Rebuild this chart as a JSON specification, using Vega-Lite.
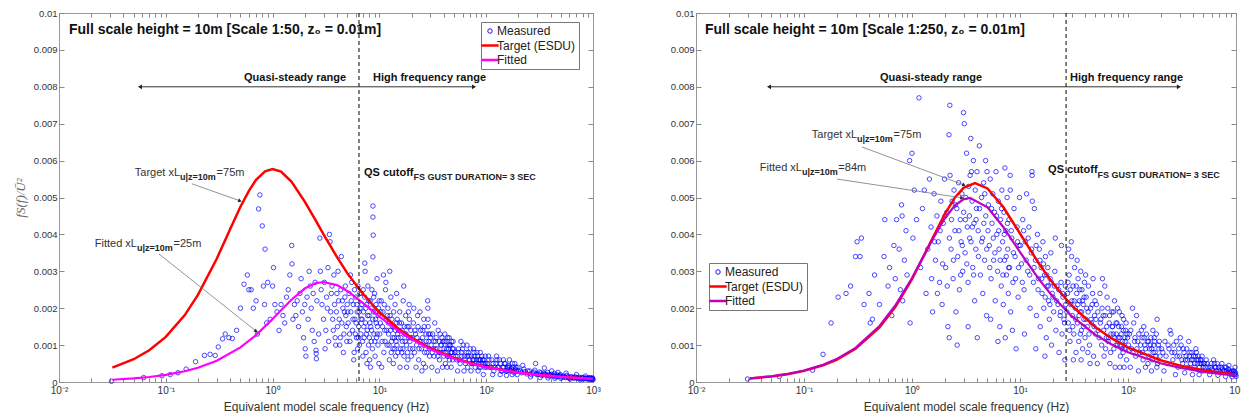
{
"$schema": "https://vega.github.io/schema/vega-lite/v6.json",
"background": "white",
"padding": {"left": 13, "top": 7, "right": 0, "bottom": 0},
"bounds": "flush",
"spacing": 103,
"config": {
  "font": "Liberation Sans",
  "view": {"stroke": "#9a9a9a", "strokeWidth": 1},
  "axis": {"grid": false, "domain": false, "tickColor": "#888", "labelColor": "#333", "labelFont": "Liberation Sans", "labelFontSize": 10, "titleFont": "Liberation Sans", "titleFontWeight": "normal", "titleColor": "#333", "titleFontSize": 12},
  "legend": {"labelFont": "Liberation Sans", "labelFontSize": 12, "labelColor": "#222", "padding": 3, "rowPadding": 2.5, "fillColor": "white", "strokeColor": "#777", "labelOffset": 1, "title": null}
},
"datasets": {
  "lm": [
{"f":0.031,"v":0.00002},{"f":0.062,"v":0.00012},{"f":0.092,"v":0.00017},{"f":0.11,"v":0.0002},{"f":0.13,"v":0.00025},{"f":0.155,"v":0.00035},{"f":0.19,"v":0.00055},{"f":0.23,"v":0.00072},{"f":0.26,"v":0.00075},{"f":0.29,"v":0.00072},{"f":0.31,"v":0.00095},{"f":0.34,"v":0.00117},{"f":0.36,"v":0.0013},{"f":0.39,"v":0.0012},{"f":0.42,"v":0.00118},{"f":0.46,"v":0.0014},{"f":0.5,"v":0.002},{"f":0.54,"v":0.00265},{"f":0.58,"v":0.0029},{"f":0.6,"v":0.0025},{"f":0.63,"v":0.0025},{"f":0.66,"v":0.002},{"f":0.7,"v":0.0022},{"f":0.72,"v":0.0013},{"f":0.74,"v":0.00469},{"f":0.76,"v":0.00507},{"f":0.8,"v":0.00423},{"f":0.82,"v":0.0026},{"f":0.84,"v":0.0021},{"f":0.85,"v":0.0036},{"f":0.88,"v":0.0016},{"f":0.9,"v":0.0027},{"f":0.95,"v":0.0017},{"f":1.0,"v":0.0026},{"f":1.02,"v":0.0031},{"f":1.05,"v":0.0021},{"f":1.1,"v":0.0019},{"f":1.15,"v":0.0014},{"f":1.2,"v":0.0021},{"f":1.25,"v":0.0018},{"f":1.3,"v":0.0016},{"f":1.35,"v":0.0023},{"f":1.4,"v":0.0025},{"f":1.45,"v":0.0029},{"f":1.51,"v":0.0037},{"f":1.52,"v":0.0032},{"f":1.55,"v":0.0017},{"f":1.6,"v":0.0021},{"f":1.65,"v":0.0018},{"f":1.7,"v":0.0022},{"f":1.75,"v":0.0015},{"f":1.8,"v":0.0024},{"f":1.85,"v":0.0028},{"f":1.9,"v":0.0019},{"f":1.95,"v":0.0012},{"f":2.0,"v":0.0021},{"f":2.02,"v":0.0009},{"f":2.05,"v":0.0007},{"f":2.1,"v":0.0023},{"f":2.15,"v":0.0017},{"f":2.2,"v":0.003},{"f":2.25,"v":0.0026},{"f":2.3,"v":0.002},{"f":2.35,"v":0.0014},{"f":2.4,"v":0.0024},{"f":2.45,"v":0.0011},{"f":2.5,"v":0.0027},{"f":2.55,"v":0.00086},{"f":2.56,"v":0.00077},{"f":2.57,"v":0.00063},{"f":2.6,"v":0.0022},{"f":2.7,"v":0.0013},{"f":2.77,"v":0.0039},{"f":2.8,"v":0.003},{"f":2.85,"v":0.0025},{"f":2.9,"v":0.0021},{"f":3.0,"v":0.0017},{"f":3.05,"v":0.0027},{"f":3.1,"v":0.0009},{"f":3.2,"v":0.0023},{"f":3.3,"v":0.0031},{"f":3.4,"v":0.004},{"f":3.45,"v":0.0038},{"f":3.5,"v":0.0019},{"f":3.6,"v":0.0026},{"f":3.7,"v":0.0014},{"f":3.8,"v":0.0021},{"f":3.9,"v":0.001},{"f":4.0,"v":0.0024},{"f":4.1,"v":0.003},{"f":4.2,"v":0.0017},{"f":4.3,"v":0.0012},{"f":4.4,"v":0.0034},{"f":4.5,"v":0.0022},{"f":4.6,"v":0.0008},{"f":4.7,"v":0.0019},{"f":4.8,"v":0.0026},{"f":4.9,"v":0.0015},{"f":5.0,"v":0.0021},
{"f":3.15,"v":0.0014},{"f":3.25,"v":0.002},{"f":3.35,"v":0.0011},{"f":3.55,"v":0.0024},{"f":3.65,"v":0.0017},{"f":3.75,"v":0.0029},{"f":3.85,"v":0.0012},{"f":3.95,"v":0.0019},{"f":4.05,"v":0.0015},{"f":4.15,"v":0.0022},{"f":4.25,"v":0.001},{"f":4.35,"v":0.0025},{"f":4.45,"v":0.0016},{"f":4.55,"v":0.002},{"f":4.65,"v":0.0013},{"f":4.75,"v":0.0023},{"f":4.85,"v":0.0018},{"f":4.95,"v":0.0011},
{"f":5.1,"v":0.0016},{"f":5.2,"v":0.0024},{"f":5.3,"v":0.0011},{"f":5.35,"v":0.0029},{"f":5.4,"v":0.0019},{"f":5.5,"v":0.0027},{"f":5.6,"v":0.0014},{"f":5.7,"v":0.0021},{"f":5.75,"v":0.0006},{"f":5.8,"v":0.0008},{"f":5.9,"v":0.0017},{"f":5.95,"v":0.0013},{"f":6.0,"v":0.0023},{"f":6.1,"v":0.0012},{"f":6.2,"v":0.0019},{"f":6.25,"v":0.0009},{"f":6.3,"v":0.0026},{"f":6.4,"v":0.0015},{"f":6.5,"v":0.001},{"f":6.6,"v":0.002},{"f":6.7,"v":0.0013},{"f":6.8,"v":0.0024},{"f":6.85,"v":0.0021},{"f":6.9,"v":0.0017},{"f":7.0,"v":0.0007},
{"f":5.05,"v":0.0019},{"f":5.25,"v":0.0013},{"f":5.45,"v":0.0022},{"f":5.65,"v":0.0017},{"f":5.85,"v":0.0025},{"f":6.05,"v":0.0016},{"f":6.15,"v":0.0021},{"f":6.35,"v":0.0012},{"f":6.45,"v":0.0019},{"f":6.55,"v":0.0024},{"f":6.75,"v":0.0017},{"f":6.95,"v":0.0011},{"f":7.05,"v":0.0025},{"f":7.15,"v":0.0015},{"f":7.45,"v":0.002},{"f":7.55,"v":0.0013},{"f":7.75,"v":0.0018},{"f":7.95,"v":0.0022},{"f":8.05,"v":0.0012},{"f":8.15,"v":0.0016},{"f":8.35,"v":0.002},{"f":8.45,"v":0.0014},{"f":8.65,"v":0.0017},{"f":8.85,"v":0.0023},{"f":9.05,"v":0.0011},{"f":9.15,"v":0.0019},{"f":9.35,"v":0.0016},{"f":9.55,"v":0.0013},{"f":9.75,"v":0.0018},{"f":9.95,"v":0.0022},
{"f":7.1,"v":0.0019},{"f":7.2,"v":0.0012},{"f":7.3,"v":0.0023},{"f":7.3,"v":0.00322},{"f":7.35,"v":0.003},{"f":7.4,"v":0.0016},{"f":7.5,"v":0.0008},{"f":7.6,"v":0.0021},{"f":7.65,"v":0.0005},{"f":7.7,"v":0.0014},{"f":7.8,"v":0.0026},{"f":7.9,"v":0.001},{"f":8.0,"v":0.0018},{"f":8.1,"v":0.0006},{"f":8.2,"v":0.0022},{"f":8.25,"v":0.0004},{"f":8.3,"v":0.0015},{"f":8.4,"v":0.0011},{"f":8.5,"v":0.0025},{"f":8.6,"v":0.0009},{"f":8.7,"v":0.00477},{"f":8.7,"v":0.00447},{"f":8.75,"v":0.00398},{"f":8.7,"v":0.00339},{"f":8.8,"v":0.0019},{"f":8.9,"v":0.0013},{"f":9.0,"v":0.0024},{"f":9.1,"v":0.0007},{"f":9.2,"v":0.0017},{"f":9.3,"v":0.0021},{"f":9.4,"v":0.0012},{"f":9.5,"v":0.0028},{"f":9.6,"v":0.0015},{"f":9.7,"v":0.001},{"f":9.8,"v":0.002},{"f":9.9,"v":0.0005},
{"f":10.2,"v":0.0016},{"f":10.4,"v":0.0022},{"f":10.5,"v":0.0004},{"f":10.6,"v":0.0011},{"f":10.8,"v":0.0019},{"f":10.9,"v":0.0029},{"f":11.0,"v":0.0008},{"f":11.2,"v":0.0014},{"f":11.4,"v":0.0025},{"f":11.5,"v":0.0027},{"f":11.6,"v":0.0017},{"f":11.8,"v":0.001},{"f":12.0,"v":0.002},{"f":12.2,"v":0.0013},{"f":12.4,"v":0.0006},{"f":12.5,"v":0.003},{"f":12.6,"v":0.0018},{"f":12.8,"v":0.0023},{"f":13.0,"v":0.0011},{"f":13.2,"v":0.0015},{"f":13.4,"v":0.0009},{"f":13.5,"v":0.0005},{"f":13.6,"v":0.0019},{"f":13.8,"v":0.0012},{"f":14.0,"v":0.0021},{"f":14.2,"v":0.0007},{"f":14.4,"v":0.0016},{"f":14.5,"v":0.0024},{"f":14.6,"v":0.001},{"f":14.8,"v":0.0013},
{"f":10.1,"v":0.0013},{"f":10.3,"v":0.0019},{"f":10.7,"v":0.0015},{"f":11.1,"v":0.0021},{"f":11.3,"v":0.0011},{"f":11.7,"v":0.0014},{"f":11.9,"v":0.0018},{"f":12.1,"v":0.0016},{"f":12.3,"v":0.001},{"f":12.7,"v":0.0014},{"f":12.9,"v":0.0008},{"f":13.1,"v":0.0017},{"f":13.3,"v":0.0012},{"f":13.7,"v":0.0015},{"f":13.9,"v":0.0009},{"f":14.1,"v":0.0014},{"f":14.3,"v":0.0011},{"f":14.7,"v":0.0017},{"f":14.9,"v":0.0008},{"f":15.0,"v":0.0012},{"f":15.4,"v":0.0016},{"f":15.9,"v":0.0012},{"f":16.3,"v":0.0014},{"f":16.6,"v":0.0009},{"f":17.1,"v":0.0015},{"f":17.7,"v":0.0013},{"f":18.3,"v":0.0008},{"f":18.9,"v":0.0015},{"f":19.3,"v":0.0011},{"f":19.6,"v":0.0012},
{"f":15.2,"v":0.0014},{"f":15.5,"v":0.0019},{"f":15.6,"v":0.0004},{"f":15.8,"v":0.0009},{"f":16.1,"v":0.0016},{"f":16.2,"v":0.0008},{"f":16.4,"v":0.0011},{"f":16.7,"v":0.0022},{"f":16.9,"v":0.0026},{"f":17.0,"v":0.0007},{"f":17.3,"v":0.0013},{"f":17.4,"v":0.0011},{"f":17.6,"v":0.0018},{"f":17.9,"v":0.001},{"f":18.0,"v":0.0004},{"f":18.2,"v":0.0015},{"f":18.5,"v":0.0006},{"f":18.7,"v":0.0019},{"f":18.8,"v":0.0012},{"f":19.0,"v":0.0021},{"f":19.1,"v":0.0017},{"f":19.4,"v":0.0009},{"f":19.7,"v":0.0014},{"f":19.9,"v":0.0007},
{"f":20.3,"v":0.0012},{"f":20.8,"v":0.0016},{"f":21.0,"v":0.002},{"f":21.3,"v":0.0008},{"f":21.8,"v":0.0013},{"f":22.0,"v":0.0004},{"f":22.3,"v":0.001},{"f":22.8,"v":0.0018},{"f":23.0,"v":0.0015},{"f":23.3,"v":0.0006},{"f":23.8,"v":0.0011},{"f":24.0,"v":0.0019},{"f":24.3,"v":0.0014},{"f":24.8,"v":0.0009},{"f":25.0,"v":0.0003},{"f":25.3,"v":0.0012},{"f":25.8,"v":0.0005},{"f":26.0,"v":0.0017},{"f":26.3,"v":0.0015},{"f":26.8,"v":0.001},{"f":27.0,"v":0.0004},{"f":27.3,"v":0.0013},{"f":27.8,"v":0.0008},{"f":28.3,"v":0.0022},{"f":28.4,"v":0.002},{"f":28.5,"v":0.0017},{"f":28.6,"v":0.0015},{"f":29.0,"v":0.0011},{"f":29.5,"v":0.0007},{"f":29.8,"v":0.0013},
{"f":20.5,"v":0.0009},{"f":21.5,"v":0.0014},{"f":22.5,"v":0.0012},{"f":23.5,"v":0.0009},{"f":24.5,"v":0.0011},{"f":25.5,"v":0.0014},{"f":26.5,"v":0.0008},{"f":27.5,"v":0.0011},{"f":28.8,"v":0.0013},{"f":29.3,"v":0.0009},{"f":30.0,"v":0.0012},{"f":31.3,"v":0.0008},{"f":32.3,"v":0.0011},{"f":33.3,"v":0.0009},{"f":34.0,"v":0.0012},{"f":35.3,"v":0.0007},{"f":36.3,"v":0.0011},{"f":37.3,"v":0.0008},{"f":38.0,"v":0.001},{"f":39.3,"v":0.0011},{"f":40.3,"v":0.0009},{"f":41.3,"v":0.0008},{"f":42.0,"v":0.0011},{"f":43.3,"v":0.0007},{"f":44.3,"v":0.0009},{"f":45.3,"v":0.0006},{"f":46.0,"v":0.001},{"f":47.3,"v":0.0008},{"f":48.3,"v":0.0009},{"f":49.3,"v":0.0007},
{"f":30.5,"v":0.001},{"f":31.0,"v":0.0004},{"f":31.5,"v":0.0013},{"f":32.0,"v":0.0009},{"f":32.5,"v":0.0007},{"f":33.0,"v":0.0016},{"f":33.5,"v":0.0011},{"f":34.5,"v":0.0009},{"f":35.0,"v":0.0003},{"f":35.5,"v":0.0014},{"f":36.0,"v":0.0008},{"f":36.5,"v":0.0006},{"f":37.0,"v":0.0013},{"f":37.5,"v":0.001},{"f":38.5,"v":0.0012},{"f":39.0,"v":0.0004},{"f":39.5,"v":0.0008},{"f":40.0,"v":0.0007},{"f":40.5,"v":0.0011},{"f":41.0,"v":0.0013},{"f":41.5,"v":0.0005},{"f":42.5,"v":0.0009},{"f":43.0,"v":0.0004},{"f":43.5,"v":0.0012},{"f":44.0,"v":0.001},{"f":44.5,"v":0.0007},{"f":45.0,"v":0.0012},{"f":45.5,"v":0.001},{"f":46.5,"v":0.0008},{"f":47.0,"v":0.0004},{"f":47.5,"v":0.0011},{"f":48.0,"v":0.0008},{"f":48.5,"v":0.0006},{"f":49.0,"v":0.0011},{"f":49.5,"v":0.0009},
{"f":51,"v":0.0008},{"f":53,"v":0.0006},{"f":54,"v":0.0003},{"f":55,"v":0.0009},{"f":57,"v":0.0005},{"f":58,"v":0.0011},{"f":59,"v":0.0007},{"f":61,"v":0.001},{"f":62,"v":0.0003},{"f":63,"v":0.0006},{"f":65,"v":0.0008},{"f":66,"v":0.001},{"f":67,"v":0.0004},{"f":69,"v":0.0007},{"f":71,"v":0.0009},{"f":72,"v":0.0003},{"f":73,"v":0.0005},{"f":75,"v":0.0006},{"f":76,"v":0.0009},{"f":77,"v":0.0008},{"f":79,"v":0.0004},{"f":81,"v":0.0006},{"f":83,"v":0.0007},{"f":84,"v":0.0003},{"f":85,"v":0.0005},{"f":87,"v":0.0006},{"f":88,"v":0.0008},{"f":89,"v":0.0004},{"f":91,"v":0.0007},{"f":93,"v":0.0005},{"f":94,"v":0.0002},{"f":95,"v":0.0006},{"f":97,"v":0.0004},{"f":98,"v":0.0007},{"f":99,"v":0.0005},
{"f":52,"v":0.0007},{"f":54.5,"v":0.0008},{"f":56,"v":0.0006},{"f":58.5,"v":0.0008},{"f":60,"v":0.0009},{"f":62.5,"v":0.0007},{"f":64,"v":0.0005},{"f":66.5,"v":0.0007},{"f":68,"v":0.0008},{"f":70,"v":0.0006},{"f":72.5,"v":0.0007},{"f":74,"v":0.0005},{"f":76.5,"v":0.0006},{"f":78,"v":0.0007},{"f":80,"v":0.0005},{"f":82,"v":0.0008},{"f":84.5,"v":0.0006},{"f":86,"v":0.0004},{"f":88.5,"v":0.0006},{"f":90,"v":0.0005},{"f":92.5,"v":0.0006},{"f":96,"v":0.0005},
{"f":103,"v":0.0005},{"f":105,"v":0.0007},{"f":108,"v":0.0004},{"f":113,"v":0.0006},{"f":115,"v":0.0002},{"f":118,"v":0.0003},{"f":123,"v":0.0005},{"f":125,"v":0.0007},{"f":128,"v":0.0004},{"f":133,"v":0.0006},{"f":135,"v":0.0002},{"f":138,"v":0.0003},{"f":143,"v":0.0004},{"f":145,"v":0.0006},{"f":148,"v":0.0005},{"f":153,"v":0.0003},{"f":155,"v":0.00018},{"f":158,"v":0.0004},{"f":163,"v":0.00045},{"f":165,"v":0.0006},{"f":168,"v":0.0003},{"f":173,"v":0.00035},{"f":175,"v":0.0002},{"f":178,"v":0.0004},{"f":183,"v":0.00025},{"f":185,"v":0.0005},{"f":188,"v":0.00035},{"f":193,"v":0.0003},{"f":195,"v":0.0002},{"f":198,"v":0.0004},
{"f":101,"v":0.0004},{"f":106,"v":0.0006},{"f":111,"v":0.0004},{"f":116,"v":0.0005},{"f":121,"v":0.0004},{"f":126,"v":0.0006},{"f":131,"v":0.0004},{"f":136,"v":0.0005},{"f":141,"v":0.0003},{"f":146,"v":0.0004},{"f":151,"v":0.0005},{"f":156,"v":0.0003},{"f":161,"v":0.0004},{"f":166,"v":0.0004},{"f":171,"v":0.0003},{"f":176,"v":0.0005},{"f":181,"v":0.0003},{"f":190,"v":0.0004},{"f":200,"v":0.0003},{"f":215,"v":0.00025},{"f":230,"v":0.00028},{"f":245,"v":0.0003},{"f":265,"v":0.0002},{"f":280,"v":0.00027},{"f":295,"v":0.00022},{"f":310,"v":0.00021},{"f":325,"v":0.00025},{"f":340,"v":0.00019},{"f":355,"v":0.00022},{"f":370,"v":0.00017},{"f":385,"v":0.0002},{"f":400,"v":0.00018},{"f":425,"v":0.00016},{"f":445,"v":0.00019},{"f":460,"v":0.00015},{"f":490,"v":0.00017},{"f":510,"v":0.00013},{"f":530,"v":0.00015},{"f":555,"v":0.00012},{"f":580,"v":0.00014},{"f":605,"v":0.00011},{"f":635,"v":0.00013},{"f":665,"v":0.0001},{"f":695,"v":0.00012},{"f":725,"v":0.00011},{"f":755,"v":0.0001},{"f":785,"v":0.00012},{"f":815,"v":0.00008},{"f":845,"v":0.0001},{"f":875,"v":0.00009},{"f":905,"v":0.00011},{"f":935,"v":0.00008},{"f":965,"v":0.0001},{"f":995,"v":0.00008},
{"f":210,"v":0.0003},{"f":220,"v":0.00045},{"f":225,"v":0.00035},{"f":240,"v":0.00022},{"f":255,"v":0.0003},{"f":260,"v":0.00014},{"f":270,"v":0.00025},{"f":285,"v":0.00032},{"f":290,"v":0.0005},{"f":300,"v":0.0002},{"f":315,"v":0.00027},{"f":320,"v":0.00012},{"f":330,"v":0.00018},{"f":345,"v":0.00024},{"f":350,"v":0.00038},{"f":360,"v":0.0002},{"f":375,"v":0.00026},{"f":380,"v":0.00011},{"f":390,"v":0.00016},{"f":405,"v":0.00021},{"f":410,"v":0.0003},{"f":420,"v":0.00018},{"f":435,"v":0.00023},{"f":440,"v":0.0001},{"f":450,"v":0.00014},{"f":465,"v":0.00019},{"f":470,"v":0.00026},{"f":480,"v":0.00016},{"f":495,"v":0.0002},{"f":500,"v":0.0001},
{"f":520,"v":0.00016},{"f":545,"v":0.00013},{"f":560,"v":0.00024},{"f":570,"v":0.00018},{"f":595,"v":0.00011},{"f":610,"v":0.00008},{"f":620,"v":0.00015},{"f":650,"v":0.00012},{"f":680,"v":0.00014},{"f":700,"v":0.0002},{"f":710,"v":0.0001},{"f":740,"v":0.00013},{"f":760,"v":0.00006},{"f":770,"v":0.00009},{"f":800,"v":0.00012},{"f":830,"v":0.0001},{"f":850,"v":0.00016},{"f":860,"v":0.00011},{"f":890,"v":0.00008},{"f":920,"v":0.0001},{"f":940,"v":0.00012},{"f":950,"v":0.00007},{"f":980,"v":0.00009},{"f":990,"v":0.00011},{"f":1000,"v":0.00006}
  ],
  "lt": [
{"f":0.0316,"v":0.000391},{"f":0.05,"v":0.000617},{"f":0.07,"v":0.000861},{"f":0.1,"v":0.001223},{"f":0.15,"v":0.001807},{"f":0.2,"v":0.00236},{"f":0.3,"v":0.00334},{"f":0.4,"v":0.00414},{"f":0.5,"v":0.00475},{"f":0.6,"v":0.00518},{"f":0.7,"v":0.00548},{"f":0.85,"v":0.00571},{"f":1,"v":0.00577},{"f":1.2,"v":0.0057},{"f":1.5,"v":0.00543},{"f":2,"v":0.00489},{"f":2.5,"v":0.00441},{"f":3,"v":0.004},{"f":4,"v":0.00339},{"f":5,"v":0.00295},{"f":7,"v":0.00239},{"f":10,"v":0.00189},{"f":15,"v":0.00145},{"f":20,"v":0.0012},{"f":30,"v":0.000914},{"f":50,"v":0.000651},{"f":70,"v":0.00052},{"f":100,"v":0.00041},{"f":200,"v":0.000258},{"f":300,"v":0.000197},{"f":500,"v":0.00014},{"f":1000,"v":0.0000883}
  ],
  "lf": [
{"f":0.0316,"v":0.0000612},{"f":0.05,"v":0.0000969},{"f":0.07,"v":0.000136},{"f":0.1,"v":0.000194},{"f":0.15,"v":0.00029},{"f":0.2,"v":0.000386},{"f":0.3,"v":0.000575},{"f":0.5,"v":0.000937},{"f":0.7,"v":0.001271},{"f":1,"v":0.001705},{"f":1.5,"v":0.00223},{"f":2,"v":0.002533},{"f":2.5,"v":0.002673},{"f":3,"v":0.00271},{"f":4,"v":0.002626},{"f":5,"v":0.002467},{"f":7,"v":0.002142},{"f":10,"v":0.001771},{"f":15,"v":0.001388},{"f":20,"v":0.001156},{"f":30,"v":0.000889},{"f":50,"v":0.000634},{"f":70,"v":0.000508},{"f":100,"v":0.000401},{"f":200,"v":0.000252},{"f":300,"v":0.000193},{"f":500,"v":0.000137},{"f":1000,"v":0.0000863}
  ],
  "rm": [
{"f":0.03,"v":0.00008},{"f":0.059,"v":0.00015},{"f":0.12,"v":0.00032},{"f":0.15,"v":0.00075},{"f":0.178,"v":0.0016},{"f":0.207,"v":0.0023},{"f":0.245,"v":0.0024},{"f":0.27,"v":0.0026},{"f":0.3,"v":0.0034},{"f":0.31,"v":0.0038},{"f":0.33,"v":0.0034},{"f":0.34,"v":0.0039},{"f":0.36,"v":0.0021},{"f":0.4,"v":0.0024},{"f":0.41,"v":0.0016},{"f":0.43,"v":0.0017},{"f":0.45,"v":0.0029},{"f":0.5,"v":0.0021},{"f":0.55,"v":0.0034},{"f":0.56,"v":0.0044},{"f":0.6,"v":0.0026},{"f":0.62,"v":0.0031},{"f":0.65,"v":0.0018},{"f":0.68,"v":0.0037},{"f":0.7,"v":0.0028},{"f":0.72,"v":0.0044},{"f":0.76,"v":0.0036},{"f":0.78,"v":0.0025},{"f":0.8,"v":0.0048},{"f":0.81,"v":0.0045},{"f":0.82,"v":0.0022},{"f":0.85,"v":0.0033},{"f":0.88,"v":0.0041},{"f":0.9,"v":0.0029},{"f":0.95,"v":0.006},{"f":0.96,"v":0.0016},{"f":1.0,"v":0.0062},{"f":1.02,"v":0.0039},{"f":1.05,"v":0.0052},{"f":1.1,"v":0.0044},{"f":1.16,"v":0.0077},{"f":1.2,"v":0.0031},{"f":1.25,"v":0.0047},{"f":1.3,"v":0.0052},{"f":1.35,"v":0.0024},{"f":1.4,"v":0.0036},{"f":1.45,"v":0.0055},{"f":1.5,"v":0.0042},{"f":1.55,"v":0.0019},{"f":1.6,"v":0.0051},{"f":1.65,"v":0.0033},{"f":1.7,"v":0.0045},
{"f":1.52,"v":0.0028},{"f":1.62,"v":0.0038},{"f":1.72,"v":0.0024},{"f":1.82,"v":0.0041},{"f":1.92,"v":0.0032},{"f":2.02,"v":0.0045},{"f":2.12,"v":0.0026},{"f":2.22,"v":0.0039},{"f":2.32,"v":0.0044},{"f":2.42,"v":0.0033},{"f":2.52,"v":0.0048},{"f":2.72,"v":0.0041},{"f":2.82,"v":0.0029},{"f":2.92,"v":0.0037},{"f":3.12,"v":0.0044},{"f":3.22,"v":0.0032},{"f":3.42,"v":0.0039},{"f":3.62,"v":0.0042},{"f":3.72,"v":0.0029},{"f":3.92,"v":0.0044},{"f":4.12,"v":0.0034},{"f":4.22,"v":0.0047},{"f":4.42,"v":0.0038},{"f":4.62,"v":0.0043},{"f":4.72,"v":0.0051},{"f":4.92,"v":0.0036},
{"f":1.75,"v":0.0038},{"f":1.8,"v":0.0027},{"f":1.85,"v":0.0049},{"f":1.9,"v":0.0021},{"f":1.95,"v":0.0043},{"f":2.0,"v":0.0055},{"f":2.05,"v":0.0031},{"f":2.1,"v":0.0046},{"f":2.15,"v":0.0015},{"f":2.2,"v":0.0067},{"f":2.21,"v":0.0012},{"f":2.24,"v":0.0075},{"f":2.25,"v":0.0056},{"f":2.3,"v":0.0036},{"f":2.35,"v":0.0049},{"f":2.4,"v":0.0028},{"f":2.45,"v":0.0052},{"f":2.5,"v":0.0041},{"f":2.55,"v":0.0019},{"f":2.6,"v":0.0047},{"f":2.62,"v":0.001},{"f":2.65,"v":0.0034},{"f":2.7,"v":0.0054},{"f":2.75,"v":0.0025},{"f":2.8,"v":0.0044},{"f":2.85,"v":0.0038},{"f":2.9,"v":0.0051},{"f":2.95,"v":0.003},{"f":3.0,"v":0.0073},{"f":3.01,"v":0.0046},
{"f":3.05,"v":0.007},{"f":3.1,"v":0.0035},{"f":3.15,"v":0.005},{"f":3.2,"v":0.0062},{"f":3.25,"v":0.0042},{"f":3.3,"v":0.0027},{"f":3.31,"v":0.0015},{"f":3.35,"v":0.0053},{"f":3.4,"v":0.0045},{"f":3.45,"v":0.0056},{"f":3.5,"v":0.0066},{"f":3.52,"v":0.0038},{"f":3.55,"v":0.0057},{"f":3.6,"v":0.0049},{"f":3.65,"v":0.0031},{"f":3.7,"v":0.006},{"f":3.75,"v":0.0043},{"f":3.8,"v":0.0022},{"f":3.85,"v":0.0052},{"f":3.9,"v":0.0036},{"f":3.95,"v":0.0047},{"f":4.0,"v":0.0057},{"f":4.02,"v":0.0012},{"f":4.1,"v":0.0041},{"f":4.2,"v":0.0064},{"f":4.3,"v":0.0029},{"f":4.4,"v":0.005},{"f":4.5,"v":0.0039},{"f":4.52,"v":0.0024},{"f":4.6,"v":0.0054},{"f":4.7,"v":0.0033},{"f":4.8,"v":0.006},{"f":4.82,"v":0.0045},{"f":4.9,"v":0.0018},{"f":4.95,"v":0.0057},
{"f":5.1,"v":0.0048},{"f":5.2,"v":0.0037},{"f":5.3,"v":0.0055},{"f":5.35,"v":0.0017},{"f":5.4,"v":0.0028},{"f":5.5,"v":0.0043},{"f":5.6,"v":0.0051},{"f":5.7,"v":0.0033},{"f":5.8,"v":0.0046},{"f":5.9,"v":0.0022},{"f":6.0,"v":0.0057},{"f":6.1,"v":0.004},{"f":6.2,"v":0.003},{"f":6.25,"v":0.0011},{"f":6.3,"v":0.0049},{"f":6.4,"v":0.0036},{"f":6.5,"v":0.0015},{"f":6.6,"v":0.0044},{"f":6.7,"v":0.0026},{"f":6.8,"v":0.0052},{"f":6.9,"v":0.0038},{"f":7.0,"v":0.0021},{"f":7.1,"v":0.0046},{"f":7.2,"v":0.0033},{"f":7.25,"v":0.0058},{"f":7.3,"v":0.0012},{"f":7.4,"v":0.0041},{"f":7.5,"v":0.0029},{"f":7.6,"v":0.005},{"f":7.7,"v":0.0036},{"f":7.8,"v":0.0024},{"f":7.9,"v":0.0044},{"f":8.0,"v":0.0031},{"f":8.1,"v":0.0056},{"f":8.12,"v":0.0052},{"f":8.2,"v":0.0019},{"f":8.4,"v":0.0039},{"f":8.5,"v":0.0014},{"f":8.6,"v":0.0027},{"f":8.8,"v":0.0047},{"f":9.0,"v":0.0034},{"f":9.2,"v":0.0009},{"f":9.4,"v":0.0042},{"f":9.6,"v":0.0023},{"f":9.8,"v":0.0037},{"f":9.9,"v":0.005},
{"f":5.05,"v":0.0041},{"f":5.25,"v":0.0031},{"f":5.45,"v":0.0047},{"f":5.65,"v":0.0039},{"f":5.85,"v":0.0035},{"f":6.05,"v":0.0045},{"f":6.35,"v":0.0041},{"f":6.55,"v":0.0033},{"f":6.75,"v":0.0047},{"f":6.95,"v":0.0029},{"f":7.15,"v":0.004},{"f":7.45,"v":0.0034},{"f":7.65,"v":0.0043},{"f":7.85,"v":0.0031},{"f":8.3,"v":0.0041},{"f":8.7,"v":0.0035},{"f":9.1,"v":0.0028},{"f":9.5,"v":0.0038},{"f":9.7,"v":0.0031},{"f":10.1,"v":0.0037},{"f":10.5,"v":0.0027},{"f":10.8,"v":0.0041},{"f":11.4,"v":0.0033},{"f":11.9,"v":0.0039},{"f":12.3,"v":0.0029},{"f":12.8,"v":0.0036},{"f":13.5,"v":0.0031},{"f":14.1,"v":0.0037},{"f":14.7,"v":0.0025},{"f":15.3,"v":0.0033},{"f":15.9,"v":0.0028},{"f":16.5,"v":0.0032},{"f":17.1,"v":0.0023},{"f":17.7,"v":0.0029},{"f":18.3,"v":0.0026},{"f":18.9,"v":0.0021},{"f":19.5,"v":0.0027},{"f":20.2,"v":0.0023},{"f":20.8,"v":0.0026},{"f":21.8,"v":0.0022},{"f":22.8,"v":0.0025},{"f":23.8,"v":0.0019},{"f":24.8,"v":0.0024},{"f":25.8,"v":0.0016},{"f":26.3,"v":0.0026},
{"f":10.3,"v":0.0032},{"f":10.6,"v":0.0044},{"f":10.9,"v":0.0025},{"f":11.0,"v":0.0013},{"f":11.2,"v":0.0038},{"f":11.5,"v":0.0051},{"f":11.8,"v":0.003},{"f":12.1,"v":0.0042},{"f":12.4,"v":0.002},{"f":12.7,"v":0.0035},{"f":12.9,"v":0.0057},{"f":12.95,"v":0.0056},{"f":13.0,"v":0.0049},{"f":13.3,"v":0.0027},{"f":13.6,"v":0.0047},{"f":13.9,"v":0.0033},{"f":14.0,"v":0.0009},{"f":14.2,"v":0.0018},{"f":14.5,"v":0.004},{"f":14.8,"v":0.0028},{"f":15.1,"v":0.0036},{"f":15.4,"v":0.0015},{"f":15.7,"v":0.0031},{"f":16.0,"v":0.0024},{"f":16.3,"v":0.0038},{"f":16.6,"v":0.002},{"f":16.9,"v":0.0029},{"f":17.0,"v":0.0007},{"f":17.2,"v":0.0034},{"f":17.5,"v":0.0012},{"f":17.8,"v":0.0026},{"f":18.1,"v":0.0031},{"f":18.4,"v":0.0022},{"f":18.7,"v":0.0017},{"f":19.0,"v":0.0028},{"f":19.3,"v":0.0035},{"f":19.6,"v":0.001},{"f":19.9,"v":0.0024},{"f":20.5,"v":0.0019},{"f":21.0,"v":0.003},{"f":21.2,"v":0.0039},{"f":21.5,"v":0.0014},{"f":22.0,"v":0.0026},{"f":22.5,"v":0.0021},{"f":23.0,"v":0.0008},{"f":23.5,"v":0.0018},{"f":24.0,"v":0.0027},{"f":24.2,"v":0.0037},{"f":24.5,"v":0.0013},{"f":25.0,"v":0.0023},{"f":25.5,"v":0.0017},{"f":26.0,"v":0.0006},{"f":26.5,"v":0.0021},
{"f":27.5,"v":0.0024},{"f":28,"v":0.0016},{"f":28.2,"v":0.0036},{"f":28.5,"v":0.0029},{"f":29,"v":0.0011},{"f":29.5,"v":0.0021},{"f":29.8,"v":0.0038},{"f":30,"v":0.0034},{"f":30.5,"v":0.0018},{"f":31,"v":0.0026},{"f":31.2,"v":0.0006},{"f":31.5,"v":0.0013},{"f":32,"v":0.0031},{"f":32.5,"v":0.002},{"f":33,"v":0.0008},{"f":33.5,"v":0.0024},{"f":33.8,"v":0.0033},{"f":34,"v":0.0016},{"f":34.5,"v":0.0028},{"f":35,"v":0.0011},{"f":35.5,"v":0.0022},{"f":36,"v":0.0019},{"f":36.5,"v":0.003},{"f":36.8,"v":0.0006},{"f":37,"v":0.0014},{"f":37.5,"v":0.0025},{"f":38,"v":0.0009},{"f":38.5,"v":0.0021},{"f":39,"v":0.0017},{"f":39.5,"v":0.0027},{"f":40,"v":0.0012},{"f":40.5,"v":0.0029},{"f":41,"v":0.0023},{"f":42,"v":0.0015},{"f":42.5,"v":0.0008},{"f":43,"v":0.0026},{"f":44,"v":0.001},{"f":44.5,"v":0.0005},{"f":45,"v":0.002},{"f":46,"v":0.0016},{"f":47,"v":0.0024},{"f":47.5,"v":0.0028},{"f":48,"v":0.0007},{"f":49,"v":0.0018},{"f":50,"v":0.0013},
{"f":27.2,"v":0.0019},{"f":27.8,"v":0.0027},{"f":28.7,"v":0.0014},{"f":29.2,"v":0.0025},{"f":30.2,"v":0.0022},{"f":30.8,"v":0.0015},{"f":31.8,"v":0.0022},{"f":32.8,"v":0.0017},{"f":33.2,"v":0.0026},{"f":34.3,"v":0.0021},{"f":35.2,"v":0.0018},{"f":35.8,"v":0.0025},{"f":36.2,"v":0.0013},{"f":37.2,"v":0.0019},{"f":37.8,"v":0.0022},{"f":38.8,"v":0.0015},{"f":39.2,"v":0.0023},{"f":40.8,"v":0.0017},{"f":41.5,"v":0.002},{"f":42.8,"v":0.0019},{"f":43.5,"v":0.0013},{"f":45.5,"v":0.0017},{"f":46.5,"v":0.0021},{"f":48.5,"v":0.0015},{"f":49.5,"v":0.0022},{"f":50.5,"v":0.0017},{"f":52.5,"v":0.0019},{"f":54,"v":0.0012},{"f":55.5,"v":0.0016},{"f":57.5,"v":0.002},{"f":59.5,"v":0.0014},{"f":61.5,"v":0.0018},{"f":63.5,"v":0.0015},{"f":65.5,"v":0.0011},{"f":67.5,"v":0.0018},{"f":69.5,"v":0.0013},{"f":71.5,"v":0.0015},{"f":73.5,"v":0.0019},{"f":75.5,"v":0.0012},{"f":77.5,"v":0.0016},{"f":79.5,"v":0.001},{"f":82,"v":0.0015},{"f":84,"v":0.0012},{"f":86.5,"v":0.0013},{"f":88,"v":0.0009},{"f":90.5,"v":0.0014},{"f":93.5,"v":0.0012},{"f":95.5,"v":0.0009},{"f":98,"v":0.0013},
{"f":51,"v":0.0021},{"f":52,"v":0.0005},{"f":53,"v":0.0014},{"f":55,"v":0.0024},{"f":56,"v":0.0017},{"f":57,"v":0.001},{"f":58,"v":0.0028},{"f":59,"v":0.0018},{"f":60,"v":0.0007},{"f":61,"v":0.0026},{"f":62,"v":0.0009},{"f":63,"v":0.0012},{"f":64,"v":0.0023},{"f":65,"v":0.002},{"f":66,"v":0.0012},{"f":67,"v":0.0016},{"f":68,"v":0.0005},{"f":69,"v":0.0008},{"f":71,"v":0.0019},{"f":72,"v":0.0015},{"f":73,"v":0.0013},{"f":74,"v":0.0009},{"f":75,"v":0.0022},{"f":76,"v":0.0004},{"f":77,"v":0.001},{"f":78,"v":0.0013},{"f":79,"v":0.0016},{"f":80,"v":0.002},{"f":81,"v":0.0012},{"f":83,"v":0.0019},{"f":84,"v":0.0004},{"f":85,"v":0.0007},{"f":86,"v":0.001},{"f":87,"v":0.0015},{"f":88,"v":0.0018},{"f":89,"v":0.0011},{"f":90,"v":0.0008},{"f":91,"v":0.0017},{"f":92,"v":0.0004},{"f":93,"v":0.0009},{"f":94,"v":0.0011},{"f":95,"v":0.0014},{"f":96,"v":0.0016},{"f":97,"v":0.0006},{"f":99,"v":0.0012},
{"f":101,"v":0.001},{"f":106,"v":0.0014},{"f":111,"v":0.0008},{"f":116,"v":0.0012},{"f":121,"v":0.0009},{"f":126,"v":0.0013},{"f":131,"v":0.001},{"f":136,"v":0.0008},{"f":141,"v":0.0012},{"f":146,"v":0.0009},{"f":151,"v":0.0011},{"f":156,"v":0.0007},{"f":161,"v":0.001},{"f":166,"v":0.0009},{"f":171,"v":0.0008},{"f":176,"v":0.0011},{"f":181,"v":0.0007},{"f":191,"v":0.001},{"f":205,"v":0.0009},{"f":225,"v":0.0007},{"f":235,"v":0.001},{"f":255,"v":0.0008},{"f":265,"v":0.001},{"f":285,"v":0.0007},{"f":295,"v":0.0009},{"f":315,"v":0.0006},{"f":325,"v":0.0009},{"f":345,"v":0.0007},{"f":355,"v":0.0006},{"f":375,"v":0.0008},{"f":385,"v":0.0006},{"f":405,"v":0.0007},{"f":415,"v":0.0005},{"f":435,"v":0.0006},{"f":445,"v":0.0007},{"f":465,"v":0.0005},{"f":475,"v":0.0006},{"f":495,"v":0.0004},{"f":510,"v":0.0005},{"f":550,"v":0.0004},{"f":590,"v":0.0005},{"f":610,"v":0.0003},{"f":640,"v":0.0004},{"f":670,"v":0.0005},{"f":700,"v":0.0003},{"f":730,"v":0.0004},{"f":760,"v":0.0003},{"f":790,"v":0.0004},{"f":820,"v":0.0003},{"f":850,"v":0.00035},{"f":880,"v":0.00025},{"f":910,"v":0.0003},{"f":940,"v":0.00022},{"f":970,"v":0.00028},{"f":995,"v":0.0002},
{"f":103,"v":0.0013},{"f":105,"v":0.0004},{"f":108,"v":0.0009},{"f":110,"v":0.002},{"f":113,"v":0.0016},{"f":115,"v":0.0011},{"f":118,"v":0.0007},{"f":120,"v":0.0018},{"f":123,"v":0.0011},{"f":125,"v":0.0003},{"f":128,"v":0.0008},{"f":133,"v":0.0014},{"f":135,"v":0.0012},{"f":138,"v":0.0006},{"f":140,"v":0.0015},{"f":143,"v":0.001},{"f":145,"v":0.0004},{"f":148,"v":0.0013},{"f":153,"v":0.0005},{"f":155,"v":0.0011},{"f":158,"v":0.0009},{"f":163,"v":0.0012},{"f":165,"v":0.0003},{"f":168,"v":0.0006},{"f":170,"v":0.0014},{"f":173,"v":0.001},{"f":175,"v":0.0012},{"f":178,"v":0.0008},{"f":183,"v":0.0013},{"f":185,"v":0.0004},{"f":186,"v":0.0017},{"f":188,"v":0.0005},{"f":193,"v":0.0009},{"f":195,"v":0.0011},{"f":198,"v":0.0007},
{"f":210,"v":0.0008},{"f":215,"v":0.0003},{"f":220,"v":0.0011},{"f":230,"v":0.0005},{"f":240,"v":0.0009},{"f":245,"v":0.0014},{"f":250,"v":0.0013},{"f":260,"v":0.0006},{"f":270,"v":0.0008},{"f":275,"v":0.0002},{"f":280,"v":0.0011},{"f":290,"v":0.0004},{"f":300,"v":0.0007},{"f":305,"v":0.0012},{"f":310,"v":0.001},{"f":320,"v":0.0005},{"f":330,"v":0.0008},{"f":335,"v":0.00025},{"f":340,"v":0.0006},{"f":350,"v":0.0009},{"f":360,"v":0.0004},{"f":365,"v":0.0011},{"f":370,"v":0.0007},{"f":380,"v":0.0005},{"f":390,"v":0.0008},{"f":395,"v":0.0002},{"f":400,"v":0.0006},{"f":410,"v":0.0004},{"f":420,"v":0.0007},{"f":425,"v":0.0009},{"f":430,"v":0.0008},{"f":440,"v":0.0005},{"f":450,"v":0.0006},{"f":455,"v":0.0002},{"f":460,"v":0.0004},{"f":470,"v":0.0006},{"f":480,"v":0.0005},{"f":485,"v":0.0007},{"f":490,"v":0.0003},{"f":500,"v":0.0005},
{"f":520,"v":0.0004},{"f":530,"v":0.0006},{"f":540,"v":0.0005},{"f":560,"v":0.0003},{"f":570,"v":0.0002},{"f":580,"v":0.0004},{"f":600,"v":0.00035},{"f":620,"v":0.0006},{"f":630,"v":0.0005},{"f":650,"v":0.0004},{"f":660,"v":0.0003},{"f":680,"v":0.00018},{"f":690,"v":0.0004},{"f":720,"v":0.00025},{"f":740,"v":0.0005},{"f":750,"v":0.00035},{"f":780,"v":0.0003},{"f":800,"v":0.00015},{"f":810,"v":0.0004},{"f":840,"v":0.00025},{"f":860,"v":0.00045},{"f":870,"v":0.0003},{"f":900,"v":0.0002},{"f":920,"v":0.00014},{"f":930,"v":0.00028},{"f":950,"v":0.0003},{"f":960,"v":0.0002},{"f":980,"v":0.0004},{"f":990,"v":0.00025},{"f":1000,"v":0.00015}
  ],
  "rt": [
{"f":0.0316,"v":0.0000955},{"f":0.05,"v":0.000151},{"f":0.07,"v":0.000211},{"f":0.1,"v":0.000302},{"f":0.15,"v":0.000452},{"f":0.2,"v":0.000602},{"f":0.3,"v":0.000899},{"f":0.5,"v":0.001479},{"f":0.7,"v":0.00203},{"f":1,"v":0.002785},{"f":1.5,"v":0.003812},{"f":2,"v":0.004539},{"f":2.5,"v":0.005002},{"f":3,"v":0.00526},{"f":3.83,"v":0.00539},{"f":5,"v":0.005246},{"f":7,"v":0.004743},{"f":10,"v":0.004025},{"f":15,"v":0.003205},{"f":20,"v":0.002687},{"f":30,"v":0.002073},{"f":50,"v":0.001483},{"f":70,"v":0.001187},{"f":100,"v":0.000937},{"f":200,"v":0.00059},{"f":300,"v":0.000451},{"f":500,"v":0.000321},{"f":1000,"v":0.000202}
  ],
  "rf": [
{"f":0.0316,"v":0.0000984},{"f":0.05,"v":0.000156},{"f":0.07,"v":0.000218},{"f":0.1,"v":0.000311},{"f":0.15,"v":0.000466},{"f":0.2,"v":0.00062},{"f":0.3,"v":0.000925},{"f":0.5,"v":0.001517},{"f":0.7,"v":0.002072},{"f":1,"v":0.002818},{"f":1.5,"v":0.003788},{"f":2,"v":0.004424},{"f":2.5,"v":0.004786},{"f":3,"v":0.004952},{"f":3.44,"v":0.00499},{"f":5,"v":0.004736},{"f":7,"v":0.0042},{"f":10,"v":0.00352},{"f":15,"v":0.002781},{"f":20,"v":0.002324},{"f":30,"v":0.001789},{"f":50,"v":0.001278},{"f":70,"v":0.001023},{"f":100,"v":0.000808},{"f":200,"v":0.000509},{"f":300,"v":0.000388},{"f":500,"v":0.000276},{"f":1000,"v":0.000174}
  ]
},
"resolve": {"scale": {"color": "independent"}, "legend": {"color": "independent"}},
"hconcat": [
{
  "width": 534, "height": 369,
  "resolve": {"axis": {"x": "independent", "y": "independent"}},
  "layer": [
    {"data": {"name": "lm"}, "mark": {"type": "point", "filled": false, "size": 20, "strokeWidth": 0.9, "opacity": 0.8},
     "encoding": {
       "x": {"field": "f", "type": "quantitative", "scale": {"type": "log", "domain": [0.01, 1000], "nice": false},
             "axis": {"title": "Equivalent model scale frequency (Hz)", "values": [0.01,0.02,0.03,0.04,0.05,0.06,0.07,0.08,0.09,0.1,0.2,0.3,0.4,0.5,0.6,0.7,0.8,0.9,1,2,3,4,5,6,7,8,9,10,20,30,40,50,60,70,80,90,100,200,300,400,500,600,700,800,900,1000],
                      "labelExpr": "abs(log(datum.value)/LN10 - round(log(datum.value)/LN10)) > 0.01 ? '' : (round(log(datum.value)/LN10) == -2 ? '10⁻²' : round(log(datum.value)/LN10) == -1 ? '10⁻¹' : round(log(datum.value)/LN10) == 0 ? '10⁰' : round(log(datum.value)/LN10) == 1 ? '10¹' : round(log(datum.value)/LN10) == 2 ? '10²' : '10³')",
                      "tickSize": -4, "labelPadding": 7, "labelOverlap": false, "labelFlush": false, "labelBound": false, "titlePadding": 6}},
       "y": {"field": "v", "type": "quantitative", "scale": {"domain": [0, 0.01], "nice": false, "zero": false},
             "axis": {"title": "fS(f)/Ū²", "values": [0,0.001,0.002,0.003,0.004,0.005,0.006,0.007,0.008,0.009,0.01], "format": "~g", "tickSize": -5, "labelPadding": 7, "labelFontSize": 9.5, "titleFont": "Liberation Serif", "titleFontStyle": "italic", "titleFontSize": 13, "titleColor": "#666", "titlePadding": 6}},
       "color": {"datum": "Measured", "type": "nominal",
                 "scale": {"domain": ["Measured", "Target (ESDU)", "Fitted"], "range": ["#0000ff", "#ff0000", "#ff00ff"]},
                 "legend": {"orient": "none", "legendX": 422, "legendY": 9, "title": null,
                            "encode": {"symbols": {"update": {
                              "shape": {"signal": "datum.value === 'Measured' ? 'circle' : 'stroke'"},
                              "size": {"signal": "datum.value === 'Measured' ? 20 : 300"},
                              "strokeWidth": {"signal": "datum.value === 'Measured' ? 0.9 : 2.5"},
                              "fill": {"value": "transparent"},
                              "opacity": {"value": 1}}}}}}
     }},
    {"data": {"name": "lt"}, "mark": {"type": "line", "strokeWidth": 2.5},
     "encoding": {
       "x": {"field": "f", "type": "quantitative", "scale": {"type": "log", "domain": [0.01, 1000], "nice": false},
             "axis": {"orient": "top", "values": [0.01,0.02,0.03,0.04,0.05,0.06,0.07,0.08,0.09,0.1,0.2,0.3,0.4,0.5,0.6,0.7,0.8,0.9,1,2,3,4,5,6,7,8,9,10,20,30,40,50,60,70,80,90,100,200,300,400,500,600,700,800,900,1000], "labels": false, "title": null, "tickSize": -4}},
       "y": {"field": "v", "type": "quantitative", "scale": {"domain": [0, 0.01], "nice": false, "zero": false},
             "axis": {"orient": "right", "values": [0,0.001,0.002,0.003,0.004,0.005,0.006,0.007,0.008,0.009,0.01], "labels": false, "title": null, "tickSize": -5}},
       "color": {"datum": "Target (ESDU)", "type": "nominal",
                 "legend": {"orient": "none", "legendX": 422, "legendY": 9, "title": null,
                            "encode": {"symbols": {"update": {
                              "shape": {"signal": "datum.value === 'Measured' ? 'circle' : 'stroke'"},
                              "size": {"signal": "datum.value === 'Measured' ? 20 : 300"},
                              "strokeWidth": {"signal": "datum.value === 'Measured' ? 0.9 : 2.5"},
                              "fill": {"value": "transparent"},
                              "opacity": {"value": 1}}}}}}
     }},
    {"data": {"name": "lf"}, "mark": {"type": "line", "strokeWidth": 2.2},
     "encoding": {
       "x": {"field": "f", "type": "quantitative", "scale": {"type": "log", "domain": [0.01, 1000], "nice": false}, "axis": null},
       "y": {"field": "v", "type": "quantitative", "scale": {"domain": [0, 0.01], "nice": false, "zero": false}, "axis": null},
       "color": {"datum": "Fitted", "type": "nominal",
                 "legend": {"orient": "none", "legendX": 422, "legendY": 9, "title": null,
                            "encode": {"symbols": {"update": {
                              "shape": {"signal": "datum.value === 'Measured' ? 'circle' : 'stroke'"},
                              "size": {"signal": "datum.value === 'Measured' ? 20 : 300"},
                              "strokeWidth": {"signal": "datum.value === 'Measured' ? 0.9 : 2.5"},
                              "fill": {"value": "transparent"},
                              "opacity": {"value": 1}}}}}}
     }},
    {"data": {"values": [{"f": 6.44}]}, "mark": {"type": "rule", "color": "#000", "strokeDash": [4, 3], "strokeWidth": 1},
     "encoding": {"x": {"field": "f", "type": "quantitative", "scale": {"type": "log", "domain": [0.01, 1000], "nice": false}, "axis": null}}},
    {"data": {"values": [{"f": 0.0573, "f2": 76.9, "v": 0.008}]}, "mark": {"type": "rule", "color": "#333", "strokeWidth": 1},
     "encoding": {"x": {"field": "f", "type": "quantitative", "axis": null}, "x2": {"field": "f2"}, "y": {"field": "v", "type": "quantitative", "axis": null}}},
    {"data": {"values": [{"f": 0.0573, "v": 0.008}]}, "mark": {"type": "point", "shape": "triangle-left", "filled": true, "size": 22, "color": "#222", "opacity": 1},
     "encoding": {"x": {"field": "f", "type": "quantitative", "axis": null}, "y": {"field": "v", "type": "quantitative", "axis": null}}},
    {"data": {"values": [{"f": 76.9, "v": 0.008}]}, "mark": {"type": "point", "shape": "triangle-right", "filled": true, "size": 22, "color": "#222", "opacity": 1},
     "encoding": {"x": {"field": "f", "type": "quantitative", "axis": null}, "y": {"field": "v", "type": "quantitative", "axis": null}}},
    {"data": {"values": [{"f": 0.176, "v": 0.00537, "f2": 0.495, "v2": 0.00491}, {"f": 0.0863, "v": 0.00347, "f2": 0.7, "v2": 0.00138}]},
     "mark": {"type": "rule", "color": "#777", "strokeWidth": 0.8},
     "encoding": {"x": {"field": "f", "type": "quantitative", "axis": null}, "x2": {"field": "f2"}, "y": {"field": "v", "type": "quantitative", "axis": null}, "y2": {"field": "v2"}}},
    {"data": {"values": [{"f": 0.495, "v": 0.00491}]}, "mark": {"type": "point", "shape": "triangle-right", "angle": 19.5, "filled": true, "size": 16, "color": "#222", "opacity": 1},
     "encoding": {"x": {"field": "f", "type": "quantitative", "axis": null}, "y": {"field": "v", "type": "quantitative", "axis": null}}},
    {"data": {"values": [{"f": 0.7, "v": 0.00138}]}, "mark": {"type": "point", "shape": "triangle-right", "angle": 38.4, "filled": true, "size": 16, "color": "#222", "opacity": 1},
     "encoding": {"x": {"field": "f", "type": "quantitative", "axis": null}, "y": {"field": "v", "type": "quantitative", "axis": null}}},
    {"data": {"values": [{"f": 0.0124, "v": 0.00954, "t": "Full scale height = 10m [Scale 1:50, z₀ = 0.01m]"}]},
     "mark": {"type": "text", "align": "left", "baseline": "middle", "font": "Liberation Sans", "fontWeight": "bold", "fontSize": 14, "color": "#111"},
     "encoding": {"x": {"field": "f", "type": "quantitative", "axis": null}, "y": {"field": "v", "type": "quantitative", "axis": null}, "text": {"field": "t"}}},
    {"data": {"values": [{"f": 0.54, "v": 0.00824, "t": "Quasi-steady range"}, {"f": 8.7, "v": 0.00824, "t": "High frequency range"}, {"f": 7.18, "v": 0.00566, "t": "QS cutoff"}]},
     "mark": {"type": "text", "align": "left", "baseline": "middle", "font": "Liberation Sans", "fontWeight": "bold", "fontSize": 11, "color": "#111"},
     "encoding": {"x": {"field": "f", "type": "quantitative", "axis": null}, "y": {"field": "v", "type": "quantitative", "axis": null}, "text": {"field": "t"}}},
    {"data": {"values": [{"f": 20.9, "v": 0.00556, "t": "FS GUST DURATION= 3 SEC"}, {"f": 0.136, "v": 0.00555, "t": "u|z=10m"}, {"f": 0.0537, "v": 0.00363, "t": "u|z=10m"}]},
     "mark": {"type": "text", "align": "left", "baseline": "middle", "font": "Liberation Sans", "fontWeight": "bold", "fontSize": 9, "color": "#222"},
     "encoding": {"x": {"field": "f", "type": "quantitative", "axis": null}, "y": {"field": "v", "type": "quantitative", "axis": null}, "text": {"field": "t"}}},
    {"data": {"values": [{"f": 0.136, "v": 0.00566, "t": "Target xL"}, {"f": 0.0537, "v": 0.00374, "t": "Fitted xL"}]},
     "mark": {"type": "text", "align": "right", "baseline": "middle", "font": "Liberation Sans", "fontSize": 11, "color": "#333"},
     "encoding": {"x": {"field": "f", "type": "quantitative", "axis": null}, "y": {"field": "v", "type": "quantitative", "axis": null}, "text": {"field": "t"}}},
    {"data": {"values": [{"f": 0.299, "v": 0.00566, "t": "=75m"}, {"f": 0.118, "v": 0.00374, "t": "=25m"}]},
     "mark": {"type": "text", "align": "left", "baseline": "middle", "font": "Liberation Sans", "fontSize": 11, "color": "#333"},
     "encoding": {"x": {"field": "f", "type": "quantitative", "axis": null}, "y": {"field": "v", "type": "quantitative", "axis": null}, "text": {"field": "t"}}}
  ]
},
{
  "width": 540, "height": 369,
  "resolve": {"axis": {"x": "independent", "y": "independent"}},
  "layer": [
    {"data": {"name": "rm"}, "mark": {"type": "point", "filled": false, "size": 20, "strokeWidth": 0.9, "opacity": 0.8},
     "encoding": {
       "x": {"field": "f", "type": "quantitative", "scale": {"type": "log", "domain": [0.01, 1000], "nice": false},
             "axis": {"title": "Equivalent model scale frequency (Hz)", "values": [0.01,0.02,0.03,0.04,0.05,0.06,0.07,0.08,0.09,0.1,0.2,0.3,0.4,0.5,0.6,0.7,0.8,0.9,1,2,3,4,5,6,7,8,9,10,20,30,40,50,60,70,80,90,100,200,300,400,500,600,700,800,900,1000],
                      "labelExpr": "abs(log(datum.value)/LN10 - round(log(datum.value)/LN10)) > 0.01 ? '' : (round(log(datum.value)/LN10) == -2 ? '10⁻²' : round(log(datum.value)/LN10) == -1 ? '10⁻¹' : round(log(datum.value)/LN10) == 0 ? '10⁰' : round(log(datum.value)/LN10) == 1 ? '10¹' : round(log(datum.value)/LN10) == 2 ? '10²' : '10³')",
                      "tickSize": -4, "labelPadding": 7, "labelOverlap": false, "labelFlush": false, "labelBound": false, "titlePadding": 6}},
       "y": {"field": "v", "type": "quantitative", "scale": {"domain": [0, 0.01], "nice": false, "zero": false},
             "axis": {"title": null, "values": [0,0.001,0.002,0.003,0.004,0.005,0.006,0.007,0.008,0.009,0.01], "format": "~g", "tickSize": -5, "labelPadding": 7, "labelFontSize": 9.5}},
       "color": {"datum": "Measured", "type": "nominal",
                 "scale": {"domain": ["Measured", "Target (ESDU)", "Fitted"], "range": ["#0000ff", "#ff0000", "#c000c0"]},
                 "legend": {"orient": "none", "legendX": 13, "legendY": 250, "title": null,
                            "encode": {"symbols": {"update": {
                              "shape": {"signal": "datum.value === 'Measured' ? 'circle' : 'stroke'"},
                              "size": {"signal": "datum.value === 'Measured' ? 20 : 300"},
                              "strokeWidth": {"signal": "datum.value === 'Measured' ? 0.9 : 2.5"},
                              "fill": {"value": "transparent"},
                              "opacity": {"value": 1}}}}}}
     }},
    {"data": {"name": "rt"}, "mark": {"type": "line", "strokeWidth": 2.5},
     "encoding": {
       "x": {"field": "f", "type": "quantitative", "scale": {"type": "log", "domain": [0.01, 1000], "nice": false},
             "axis": {"orient": "top", "values": [0.01,0.02,0.03,0.04,0.05,0.06,0.07,0.08,0.09,0.1,0.2,0.3,0.4,0.5,0.6,0.7,0.8,0.9,1,2,3,4,5,6,7,8,9,10,20,30,40,50,60,70,80,90,100,200,300,400,500,600,700,800,900,1000], "labels": false, "title": null, "tickSize": -4}},
       "y": {"field": "v", "type": "quantitative", "scale": {"domain": [0, 0.01], "nice": false, "zero": false},
             "axis": {"orient": "right", "values": [0,0.001,0.002,0.003,0.004,0.005,0.006,0.007,0.008,0.009,0.01], "labels": false, "title": null, "tickSize": -5}},
       "color": {"datum": "Target (ESDU)", "type": "nominal",
                 "legend": {"orient": "none", "legendX": 13, "legendY": 250, "title": null,
                            "encode": {"symbols": {"update": {
                              "shape": {"signal": "datum.value === 'Measured' ? 'circle' : 'stroke'"},
                              "size": {"signal": "datum.value === 'Measured' ? 20 : 300"},
                              "strokeWidth": {"signal": "datum.value === 'Measured' ? 0.9 : 2.5"},
                              "fill": {"value": "transparent"},
                              "opacity": {"value": 1}}}}}}
     }},
    {"data": {"name": "rf"}, "mark": {"type": "line", "strokeWidth": 2.2},
     "encoding": {
       "x": {"field": "f", "type": "quantitative", "scale": {"type": "log", "domain": [0.01, 1000], "nice": false}, "axis": null},
       "y": {"field": "v", "type": "quantitative", "scale": {"domain": [0, 0.01], "nice": false, "zero": false}, "axis": null},
       "color": {"datum": "Fitted", "type": "nominal",
                 "legend": {"orient": "none", "legendX": 13, "legendY": 250, "title": null,
                            "encode": {"symbols": {"update": {
                              "shape": {"signal": "datum.value === 'Measured' ? 'circle' : 'stroke'"},
                              "size": {"signal": "datum.value === 'Measured' ? 20 : 300"},
                              "strokeWidth": {"signal": "datum.value === 'Measured' ? 0.9 : 2.5"},
                              "fill": {"value": "transparent"},
                              "opacity": {"value": 1}}}}}}
     }},
    {"data": {"values": [{"f": 26.7}]}, "mark": {"type": "rule", "color": "#000", "strokeDash": [4, 3], "strokeWidth": 1},
     "encoding": {"x": {"field": "f", "type": "quantitative", "scale": {"type": "log", "domain": [0.01, 1000], "nice": false}, "axis": null}}},
    {"data": {"values": [{"f": 0.0474, "f2": 296, "v": 0.008}]}, "mark": {"type": "rule", "color": "#333", "strokeWidth": 1},
     "encoding": {"x": {"field": "f", "type": "quantitative", "axis": null}, "x2": {"field": "f2"}, "y": {"field": "v", "type": "quantitative", "axis": null}}},
    {"data": {"values": [{"f": 0.0474, "v": 0.008}]}, "mark": {"type": "point", "shape": "triangle-left", "filled": true, "size": 22, "color": "#222", "opacity": 1},
     "encoding": {"x": {"field": "f", "type": "quantitative", "axis": null}, "y": {"field": "v", "type": "quantitative", "axis": null}}},
    {"data": {"values": [{"f": 296, "v": 0.008}]}, "mark": {"type": "point", "shape": "triangle-right", "filled": true, "size": 22, "color": "#222", "opacity": 1},
     "encoding": {"x": {"field": "f", "type": "quantitative", "axis": null}, "y": {"field": "v", "type": "quantitative", "axis": null}}},
    {"data": {"values": [{"f": 0.344, "v": 0.00637, "f2": 3.03, "v2": 0.00534}, {"f": 0.202, "v": 0.0055, "f2": 2.9, "v2": 0.00499}]},
     "mark": {"type": "rule", "color": "#777", "strokeWidth": 0.8},
     "encoding": {"x": {"field": "f", "type": "quantitative", "axis": null}, "x2": {"field": "f2"}, "y": {"field": "v", "type": "quantitative", "axis": null}, "y2": {"field": "v2"}}},
    {"data": {"values": [{"f": 3.03, "v": 0.00534}]}, "mark": {"type": "point", "shape": "triangle-right", "angle": 20.4, "filled": true, "size": 16, "color": "#222", "opacity": 1},
     "encoding": {"x": {"field": "f", "type": "quantitative", "axis": null}, "y": {"field": "v", "type": "quantitative", "axis": null}}},
    {"data": {"values": [{"f": 2.9, "v": 0.00499}]}, "mark": {"type": "point", "shape": "triangle-right", "angle": 8.6, "filled": true, "size": 16, "color": "#222", "opacity": 1},
     "encoding": {"x": {"field": "f", "type": "quantitative", "axis": null}, "y": {"field": "v", "type": "quantitative", "axis": null}}},
    {"data": {"values": [{"f": 0.0121, "v": 0.00954, "t": "Full scale height = 10m [Scale 1:250, z₀ = 0.01m]"}]},
     "mark": {"type": "text", "align": "left", "baseline": "middle", "font": "Liberation Sans", "fontWeight": "bold", "fontSize": 14, "color": "#111"},
     "encoding": {"x": {"field": "f", "type": "quantitative", "axis": null}, "y": {"field": "v", "type": "quantitative", "axis": null}, "text": {"field": "t"}}},
    {"data": {"values": [{"f": 0.506, "v": 0.00824, "t": "Quasi-steady range"}, {"f": 29.1, "v": 0.00824, "t": "High frequency range"}, {"f": 18.2, "v": 0.00575, "t": "QS cutoff"}]},
     "mark": {"type": "text", "align": "left", "baseline": "middle", "font": "Liberation Sans", "fontWeight": "bold", "fontSize": 11, "color": "#111"},
     "encoding": {"x": {"field": "f", "type": "quantitative", "axis": null}, "y": {"field": "v", "type": "quantitative", "axis": null}, "text": {"field": "t"}}},
    {"data": {"values": [{"f": 52.3, "v": 0.00561, "t": "FS GUST DURATION= 3 SEC"}, {"f": 0.31, "v": 0.00658, "t": "u|z=10m"}, {"f": 0.0957, "v": 0.00569, "t": "u|z=10m"}]},
     "mark": {"type": "text", "align": "left", "baseline": "middle", "font": "Liberation Sans", "fontWeight": "bold", "fontSize": 9, "color": "#222"},
     "encoding": {"x": {"field": "f", "type": "quantitative", "axis": null}, "y": {"field": "v", "type": "quantitative", "axis": null}, "text": {"field": "t"}}},
    {"data": {"values": [{"f": 0.31, "v": 0.00669, "t": "Target xL"}, {"f": 0.0957, "v": 0.0058, "t": "Fitted xL"}]},
     "mark": {"type": "text", "align": "right", "baseline": "middle", "font": "Liberation Sans", "fontSize": 11, "color": "#333"},
     "encoding": {"x": {"field": "f", "type": "quantitative", "axis": null}, "y": {"field": "v", "type": "quantitative", "axis": null}, "text": {"field": "t"}}},
    {"data": {"values": [{"f": 0.675, "v": 0.00669, "t": "=75m"}, {"f": 0.208, "v": 0.0058, "t": "=84m"}]},
     "mark": {"type": "text", "align": "left", "baseline": "middle", "font": "Liberation Sans", "fontSize": 11, "color": "#333"},
     "encoding": {"x": {"field": "f", "type": "quantitative", "axis": null}, "y": {"field": "v", "type": "quantitative", "axis": null}, "text": {"field": "t"}}}
  ]
}
]
}
